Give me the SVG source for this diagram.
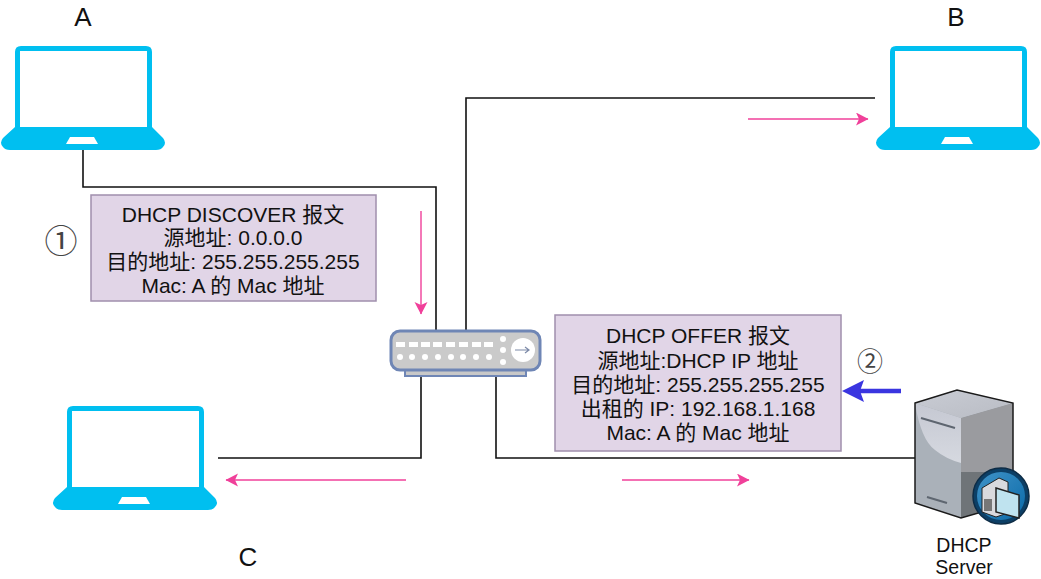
<svg xmlns="http://www.w3.org/2000/svg" xmlns:xlink="http://www.w3.org/1999/xlink" width="1041" height="579" viewBox="0 0 1041 579">
<style>
text{font-family:"Liberation Sans","Noto Sans CJK SC",sans-serif;fill:#111;text-anchor:middle}
.msg{font-size:21px}
.box{fill:#e1d5e7;stroke:#a08fad;stroke-width:1.5}
.wire{fill:none;stroke:#111;stroke-width:1.6}
.pink{fill:none;stroke:#f0409a;stroke-width:1.4;marker-end:url(#pinkHead)}
.big{font-size:26px}
.step{font-family:"Noto Sans CJK SC",sans-serif;fill:#444}
.srv{font-size:19.500px}
</style>
<defs>
<marker id="pinkHead" markerUnits="userSpaceOnUse" markerWidth="14" markerHeight="14" refX="12" refY="6.5" orient="auto"><path d="M0 0L12.500 6.500L0 13L3 6.500Z" fill="#f0409a"/></marker>
<g id="laptop">
<path d="M15 127V52Q15 46 21 46H146Q152 46 152 52V127L163 138Q167 143 163 147Q161 150 156 150H10Q5 150 3 147Q-1 143 3 138Z" fill="#00bff0"/>
<rect x="20" y="51" width="127" height="76" fill="#fff"/>
<path d="M70 137H94L98 144H66Z" fill="#fff"/>
</g>
<linearGradient id="srvTop" x1="0" y1="0" x2="1" y2="1"><stop offset="0" stop-color="#c9ccd4"/><stop offset="1" stop-color="#b9bcc4"/></linearGradient>
<linearGradient id="srvLight" x1="0" y1="0" x2="0" y2="1"><stop offset="0" stop-color="#c5c8d2"/><stop offset="1" stop-color="#d6d9e0"/></linearGradient>
<linearGradient id="globe" x1="0" y1="0" x2="1" y2="1"><stop offset="0" stop-color="#3f93c8"/><stop offset="1" stop-color="#0b6aa8"/></linearGradient>
</defs>

<g id="connectors">
<path class="wire" d="M83 150V187H436V330"/>
<path class="wire" d="M466 330V98H875"/>
<path class="wire" d="M218 458H421V375"/>
<path class="wire" d="M496 375V458H918"/>
<path class="pink" d="M421 211V314"/>
<path class="pink" d="M748 119H868"/>
<path class="pink" d="M406 480H226"/>
<path class="pink" d="M622 480H749"/>
<path d="M901 391H858" stroke="#3a35e0" stroke-width="4.500" fill="none"/>
<path d="M842 391L864 380L860 391L864 402Z" fill="#3a35e0"/>
</g>

<g id="node-a"><use href="#laptop" xlink:href="#laptop"/><text class="big" x="83" y="26">A</text></g>
<g id="node-b"><use href="#laptop" xlink:href="#laptop" x="875"/><text class="big" x="956" y="26">B</text></g>
<g id="node-c"><use href="#laptop" xlink:href="#laptop" x="52" y="360"/><text class="big" x="248" y="566">C</text></g>

<g id="switch">
<rect x="405" y="368" width="121" height="8" fill="#c8c8c8" stroke="#6f86b5" stroke-width="2"/>
<rect x="391" y="331" width="149" height="39" rx="9" fill="#cacaca" stroke="#6f86b5" stroke-width="3"/>
<g fill="#fff">
<rect x="396" y="342" width="9" height="5"/><rect x="409" y="342" width="9" height="5"/><rect x="421" y="342" width="9" height="5"/><rect x="433" y="342" width="9" height="5"/><rect x="446" y="342" width="9" height="5"/><rect x="459" y="342" width="9" height="5"/><rect x="472" y="342" width="9" height="5"/><rect x="484" y="342" width="9" height="5"/>
<circle cx="400" cy="357" r="3"/><circle cx="412" cy="357" r="3"/><circle cx="425" cy="357" r="3"/><circle cx="438" cy="357" r="3"/><circle cx="451" cy="357" r="3"/><circle cx="463" cy="357" r="3"/><circle cx="476" cy="357" r="3"/><circle cx="489" cy="357" r="3"/>
<circle cx="503" cy="339" r="3"/><circle cx="503" cy="350" r="3"/><circle cx="503" cy="362" r="3"/>
<circle cx="523" cy="350" r="12"/>
</g>
<path d="M515 350H528M525 347L529 350L525 353" fill="none" stroke="#7c8aa8" stroke-width="1.200"/>
</g>

<g id="msg-discover">
<rect class="box" x="91" y="195" width="285" height="106"/>
<text class="msg" x="233" y="222">DHCP DISCOVER 报文</text>
<text class="msg" x="233" y="245">源地址: 0.0.0.0</text>
<text class="msg" x="233" y="269">目的地址: 255.255.255.255</text>
<text class="msg" x="233" y="293">Mac: A 的 Mac 地址</text>
</g>
<g id="step-1"><text class="step" x="61" y="253" font-size="33">①</text></g>

<g id="msg-offer">
<rect class="box" x="555" y="315" width="286" height="136"/>
<text class="msg" x="698" y="343">DHCP OFFER 报文</text>
<text class="msg" x="698" y="368">源地址:DHCP IP 地址</text>
<text class="msg" x="698" y="392">目的地址: 255.255.255.255</text>
<text class="msg" x="698" y="416">出租的 IP: 192.168.1.168</text>
<text class="msg" x="698" y="440">Mac: A 的 Mac 地址</text>
</g>
<g id="step-2"><text class="step" x="870" y="371" font-size="26">②</text></g>

<g id="dhcp-server">
<path d="M915 403L957 390L1013 403V503L961 518L915 503Z" fill="#aab1b9"/>
<path d="M961 418L1013 403V503L961 518Z" fill="#6f7478"/>
<path d="M961 418L1013 403V472H961Z" fill="#9a9b9f"/>
<path d="M915 403Q921 440 935 450Q946 459 961 463V418Z" fill="url(#srvLight)"/>
<path d="M915 403L957 390L1013 403L961 418Z" fill="url(#srvTop)"/>
<path d="M915 403L957 390L1013 403V503L961 518L915 503Z" fill="none" stroke="#1a1a1a" stroke-width="1.500"/>
<path d="M921 418L955 428M927 497L947 503" stroke="#5e6670" stroke-width="2" fill="none"/>
<circle cx="1001" cy="496" r="28" fill="#0c3f66" stroke="#0d2c46" stroke-width="1.500"/>
<circle cx="1001" cy="496" r="24" fill="url(#globe)"/>
<path d="M982 488L999 478L1008 482V513L996 517L982 512Z" fill="#d9dade" stroke="#222" stroke-width="1"/>
<rect x="984" y="499" width="8" height="12" fill="#777"/>
<path d="M996 488L1019 495V518L996 512Z" fill="#bfe3ef" stroke="#222" stroke-width="1.500"/>
<text class="srv" x="964" y="552">DHCP</text>
<text class="srv" x="964" y="574">Server</text>
</g>
</svg>
